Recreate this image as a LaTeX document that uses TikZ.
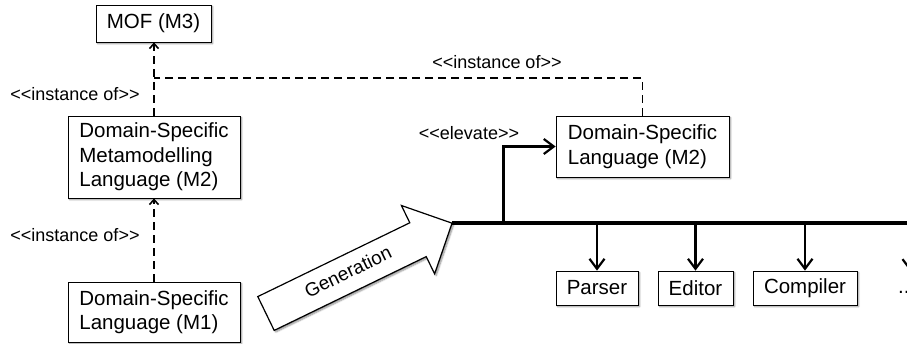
\documentclass[tikz,border=0pt]{standalone}
\usepackage{fontspec}
\setmainfont{Liberation Sans}[Ligatures=TeXOff]
\usetikzlibrary{arrows.meta,shadows.blur}

\tikzset{
  shadowed/.style={blur shadow={shadow xshift=1.6pt, shadow yshift=-1.6pt,
      shadow blur radius=1.6pt, shadow blur steps=6, shadow opacity=45}},
  box/.style={draw, line width=0.8pt, fill=white, shadowed, inner sep=0pt,
      align=left, font=\fontsize{20.5}{24.5}\selectfont},
  lbl/.style={inner sep=0pt, font=\fontsize{18}{20}\selectfont},
  inst/.style={dashed, dash pattern=on 8pt off 5pt, line width=1.9pt},
  smallbarb/.style={-{Straight Barb[length=5pt, width=9pt, line width=1.6pt]}},
  barb/.style={-{Straight Barb[length=10pt, width=15pt, line width=2.2pt]}},
  bus/.style={line width=3.6pt},
  feed/.style={line width=2.4pt, barb},
}

\begin{document}
\begin{tikzpicture}[x=1pt, y=-1pt]
\useasboundingbox (0,0) rectangle (907,343);
\clip (0,0) rectangle (907,343);

% model stack on the left
\node[box, minimum width=115pt, minimum height=37pt] (mof) at (153.5,23.5) {MOF (M3)};
\node[box, minimum width=172pt, minimum height=82pt] (dsml) at (154,157)
  {Domain-Specific\\Metamodelling\\Language (M2)};
\node[box, minimum width=172pt, minimum height=60pt] (dslone) at (154,312)
  {Domain-Specific\\Language (M1)};

% generated language and tools
\node[box, minimum width=173pt, minimum height=61pt] (dsltwo) at (642.5,146.5)
  {Domain-Specific\\Language (M2)};
\node[box, minimum width=82pt, minimum height=34pt] (parser) at (597,288) {Parser};
\node[box, minimum width=75pt, minimum height=34pt] (editor) at (695.5,288) {Editor};
\node[box, minimum width=104pt, minimum height=34pt] (compiler) at (805,288) {Compiler};
\node[anchor=west, inner sep=0pt, font=\fontsize{20.5}{24.5}\selectfont] (more) at (898,292) {...};

% instance-of relations
\coordinate (join) at (154,78);
\draw[inst, smallbarb] (dsml.north) -- (dsml.north |- mof.south);
\draw[inst] (dsltwo.north) |- (join);
\draw[inst, smallbarb] (dslone.north) -- (dsml.south);
\node[lbl] (l1) at (75,94) {<<instance of>>};
\node[lbl] (l2) at (75,235) {<<instance of>>};
\node[lbl] (l3) at (497,62) {<<instance of>>};
\node[lbl] (l4) at (469,133) {<<elevate>>};

% generation arrow
\begin{scope}[shift={(266,313.5)}, rotate=25.9]
  \draw[line width=1.2pt, fill=white, shadowed, line join=miter]
    (0,-18.8) -- (169,-18.8) -- (169,-38) -- (206.8,0) -- (169,38)
    -- (169,18.8) -- (0,18.8) -- cycle;
  \node[rotate=25.9, inner sep=0pt, font=\fontsize{19}{21}\selectfont] (gen) at (92,-2) {Generation};
  \coordinate (tip) at (206.8,0);
\end{scope}

% output bus and its branches
\coordinate (busend) at (930,223);
\coordinate (branch) at (504,223);
\draw[bus] (tip) -- (tip -| busend);
\draw[feed] ([xshift=-0.5pt]branch |- tip) |- (dsltwo.west);
\draw[feed] (parser.north |- tip) -- (parser.north);
\draw[feed] (editor.north |- tip) -- (editor.north);
\draw[feed] (compiler.north |- tip) -- (compiler.north);
\coordinate (nextdrop) at (910,271);
\draw[feed] (nextdrop |- tip) -- (nextdrop);
\end{tikzpicture}
\end{document}
